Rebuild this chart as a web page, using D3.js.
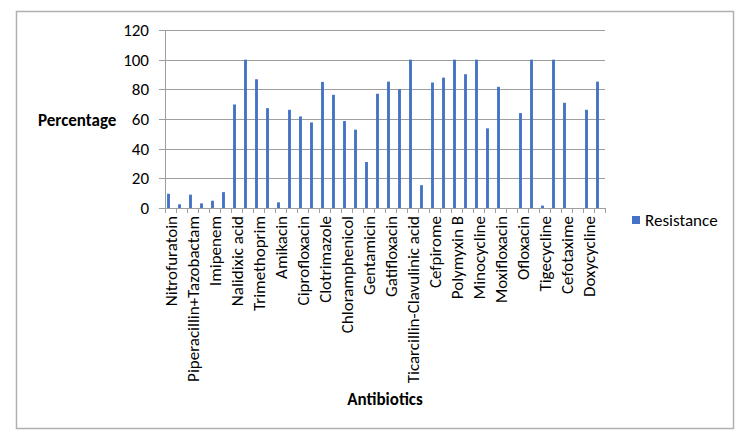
<!DOCTYPE html>
<html>
<head>
<meta charset="utf-8">
<script src="https://cdn.jsdelivr.net/npm/d3@7"></script>
<style>
  body { margin: 0; background: #fff; }
  svg { font-family: Carlito, Calibri, Lato, sans-serif; }
</style>
</head>
<body>
<svg width="750" height="445"></svg>
<script>
// labels shown every second category (Excel skipped the others)
var labels = ['Nitrofuratoin', 'Piperacillin+Tazobactam', 'Imipenem', 'Nalidixic acid',
  'Trimethoprim', 'Amikacin', 'Ciprofloxacin', 'Clotrimazole', 'Chloramphenicol',
  'Gentamicin', 'Gatifloxacin', 'Ticarcillin-Clavulinic acid', 'Cefpirome',
  'Polymyxin B', 'Minocycline', 'Moxifloxacin', 'Ofloxacin', 'Tigecycline',
  'Cefotaxime', 'Doxycycline'];

// resistance %, one per category (40 categories)
var resistance = [9.6, 2.5, 9, 3.1, 4.9, 10.7, 69.8, 100, 86.8, 67.3,
  3.8, 66.2, 61.7, 57.7, 85, 76.3, 58.6, 52.8, 31, 77,
  85.2, 80.1, 100, 15.4, 84.6, 87.9, 100, 90.2, 100, 53.7,
  81.7, 0, 64, 100, 1.6, 100, 70.9, 0, 66.2, 85.2];

var yTicks = [0, 20, 40, 60, 80, 100, 120];

var svg = d3.select('svg'),
  margin = {top: 30, left: 165, right: 145, bottom: 237},
  width = 750 - margin.left - margin.right,
  height = 445 - margin.top - margin.bottom;

// outer frame
svg.append('rect')
  .attr('x', 16.5).attr('y', 11.5)
  .attr('width', 717).attr('height', 417)
  .attr('fill', 'none').attr('stroke', '#b0b0b0').attr('stroke-width', 1.5);

var g = svg.append('g')
  .attr('transform', 'translate(' + margin.left + ',' + margin.top + ')');

var idx = d3.range(resistance.length);

var x = d3.scaleBand()
  .domain(idx)
  .range([0, width])
  .paddingInner(0.74)
  .paddingOuter(0.37);

var y = d3.scaleLinear().domain([0, 120]).range([height, 0]);

// gridlines
g.selectAll('.grid')
  .data(yTicks)
  .enter()
  .append('line')
  .attr('class', 'grid')
  .attr('x1', -6).attr('x2', width)
  .attr('y1', d => Math.round(y(d)) + 0.5)
  .attr('y2', d => Math.round(y(d)) + 0.5)
  .attr('stroke', '#9e9e9e').attr('stroke-width', 1);

// y axis labels
g.selectAll('.ylab')
  .data(yTicks)
  .enter()
  .append('text')
  .attr('x', -16)
  .attr('y', d => y(d))
  .attr('dy', '0.35em')
  .attr('text-anchor', 'end')
  .attr('font-size', '17px')
  .attr('fill', '#000')
  .text(d => d);

g.append('line')
  .attr('x1', 0.5).attr('x2', 0.5)
  .attr('y1', 0).attr('y2', height)
  .attr('stroke', '#9e9e9e');

// bars
g.selectAll('.bar')
  .data(resistance)
  .enter()
  .append('rect')
  .attr('class', 'bar')
  .attr('x', (d, i) => x(i) - 2)
  .attr('width', x.bandwidth())
  .attr('y', d => y(d))
  .attr('height', d => height - y(d))
  .attr('fill', '#4472c4');

// x axis: category ticks between bands
var step = x.step();
g.selectAll('.xtick')
  .data(d3.range(resistance.length + 1))
  .enter()
  .append('line')
  .attr('x1', d => Math.round(d * step) + 0.5)
  .attr('x2', d => Math.round(d * step) + 0.5)
  .attr('y1', height).attr('y2', height + 5)
  .attr('stroke', '#9e9e9e');

g.selectAll('.xlab')
  .data(labels)
  .enter()
  .append('text')
  .attr('transform', (d, i) => 'translate(' + (x(i * 2) + x.bandwidth() / 2 + 6) + ',' + (height + 8) + ') rotate(-90)')
  .attr('text-anchor', 'end')
  .attr('font-size', '17px')
  .attr('fill', '#000')
  .text(d => d);

// axis titles
svg.append('text')
  .attr('x', 38).attr('y', 120)
  .attr('dy', '0.35em')
  .attr('font-size', '17px')
  .attr('font-weight', 'bold')
  .text('Percentage');

svg.append('text')
  .attr('x', 385).attr('y', 399)
  .attr('dy', '0.35em')
  .attr('text-anchor', 'middle')
  .attr('font-size', '17px')
  .attr('font-weight', 'bold')
  .text('Antibiotics');

// legend
svg.append('rect')
  .attr('x', 632).attr('y', 216)
  .attr('width', 8).attr('height', 8)
  .attr('fill', '#4472c4');

svg.append('text')
  .attr('x', 645).attr('y', 220)
  .attr('dy', '0.35em')
  .attr('font-size', '17px')
  .text('Resistance');
</script>
</body>
</html>
